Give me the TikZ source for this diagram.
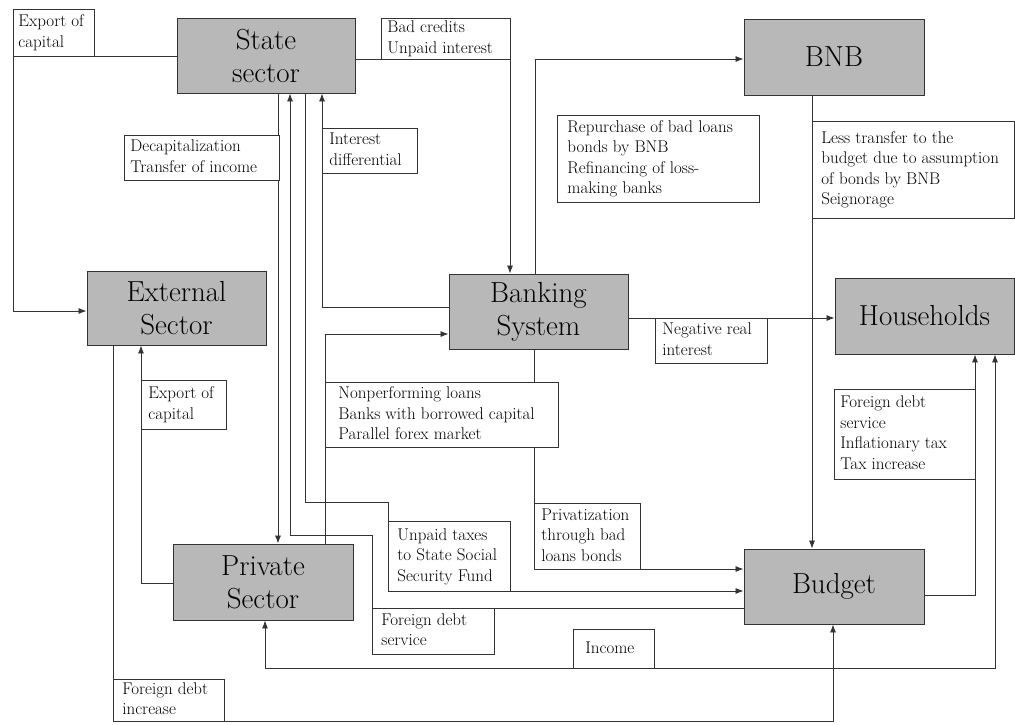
\documentclass[tikz,border=0pt]{standalone}
\usepackage{fontspec}
\usetikzlibrary{arrows.meta}
\newcommand{\lbltxt}[2]{\makebox[#1][l]{\begin{tabular}{@{}l@{}}#2\end{tabular}}}
\begin{document}
\begin{tikzpicture}[x=1pt,y=-1pt,
  sector/.style={draw=black!80, fill=black!28, line width=0.9pt, inner sep=0pt, align=center, font=\rmfamily\fontsize{29}{33}\selectfont},
  lbl/.style={draw=black!80, fill=white, line width=0.8pt, inner sep=0pt, anchor=north west, font=\rmfamily\fontsize{17}{20.5}\selectfont},
  flow/.style={draw=black!80, line width=0.8pt},
  arr/.style={flow, -{Latex[length=8pt,width=6pt]}},
  dblarr/.style={flow, {Latex[length=8pt,width=6pt]}-{Latex[length=8pt,width=6pt]}}
]
\useasboundingbox (0,0) rectangle (1015,724);

% sectors
\node[sector, minimum width=178pt, minimum height=75pt] (state) at (266,55.5) {State\\sector};
\node[sector, minimum width=180pt, minimum height=76pt] (bnb) at (834,57) {BNB};
\node[sector, minimum width=179pt, minimum height=74pt] (ext) at (176.5,308) {External\\Sector};
\node[sector, minimum width=179pt, minimum height=75pt] (bank) at (538.5,311.5) {Banking\\System};
\node[sector, minimum width=179pt, minimum height=76pt] (house) at (924.5,316) {Households};
\node[sector, minimum width=180pt, minimum height=76pt] (priv) at (263,582) {Private\\Sector};
\node[sector, minimum width=180pt, minimum height=75pt] (budget) at (834,586.5) {Budget};

% connectors
\draw[arr] (state.west |- 0,56) -- (13,56) -- (13,311) -- (ext.west |- 0,311);
\draw[arr] (state.east |- 0,59) -- (510,59) -- (bank.north -| 510,0);
\draw[arr] (bank.north -| 535,0) -- (535,59) -- (bnb.west |- 0,59);
\draw[arr] (bnb.south -| 812,0) -- (budget.north -| 812,0);
\draw[arr] (bank.east |- 0,318) -- (house.west |- 0,318);
\draw[arr] (budget.east |- 0,595) -- (975,595) -- (house.south -| 975,0);
\draw[dblarr] (priv.south -| 265,0) -- (265,668) -- (995,668) -- (house.south -| 995,0);
\draw[arr] (priv.west |- 0,583) -- (141,583) -- (ext.south -| 141,0);
\draw[arr] (state.south -| 278,0) -- (priv.north -| 278,0);
\draw[arr] (budget.west |- 0,608) -- (372,608) -- (372,535) -- (290,535) -- (state.south -| 290,0);
\draw[arr] (state.south -| 305,0) -- (305,502) -- (388,502) -- (388,591) -- (budget.west |- 0,591);
\draw[arr] (bank.west |- 0,307) -- (322,307) -- (state.south -| 322,0);
\draw[arr] (priv.north -| 325,0) -- (325,334) -- (bank.west |- 0,334);
\draw[arr] (bank.south -| 534,0) -- (534,569) -- (budget.west |- 0,569);
\draw[arr] (ext.south -| 113,0) -- (113,721) -- (833,721) -- (budget.south -| 833,0);

% labels
\node[lbl, minimum width=81pt, minimum height=47pt] (lexpA) at (13,9) {\lbltxt{71pt}{Export of\\capital}};
\node[lbl, minimum width=129pt, minimum height=41pt] (lbad) at (381,18) {\lbltxt{117pt}{Bad credits\\Unpaid interest}};
\node[lbl, minimum width=155pt, minimum height=45pt] (ldecap) at (124,135) {\lbltxt{143pt}{Decapitalization\\Transfer of income}};
\node[lbl, minimum width=95pt, minimum height=45pt] (lint) at (322,128) {\lbltxt{81pt}{Interest\\differential}};
\node[lbl, minimum width=202pt, minimum height=87pt] (lrep) at (557,115) {\lbltxt{182pt}{Repurchase of bad loans\\bonds by BNB\\Refinancing of loss-\\making banks}};
\node[lbl, minimum width=202pt, minimum height=97pt] (lless) at (812,121) {\lbltxt{184pt}{Less transfer to the\\budget due to assumption\\of bonds by BNB\\Seignorage}};
\node[lbl, minimum width=85pt, minimum height=49pt] (lexpB) at (141,380) {\lbltxt{71pt}{Export of\\capital}};
\node[lbl, minimum width=233pt, minimum height=65pt] (lnon) at (325,382) {\lbltxt{207pt}{Nonperforming loans\\Banks with borrowed capital\\Parallel forex market}};
\node[lbl, minimum width=112pt, minimum height=45pt] (lneg) at (655,318) {\lbltxt{98pt}{Negative real\\interest}};
\node[lbl, minimum width=141pt, minimum height=90pt] (lfd) at (834,389) {\lbltxt{129pt}{Foreign debt\\service\\Inflationary tax\\Tax increase}};
\node[lbl, minimum width=122pt, minimum height=70pt] (lunp) at (388,521) {\lbltxt{104pt}{Unpaid taxes\\to State Social\\Security Fund}};
\node[lbl, minimum width=122pt, minimum height=46pt] (lfds) at (372,608) {\lbltxt{104pt}{Foreign debt\\service}};
\node[lbl, minimum width=106pt, minimum height=66pt] (lpriv) at (534,503) {\lbltxt{92pt}{Privatization\\through bad\\loans bonds}};
\node[lbl, minimum width=81pt, minimum height=39pt] (linc) at (573,629) {\lbltxt{57pt}{Income}};
\node[lbl, minimum width=111pt, minimum height=42pt] (lfdi) at (113,679) {\lbltxt{93pt}{Foreign debt\\increase}};
\end{tikzpicture}
\end{document}
